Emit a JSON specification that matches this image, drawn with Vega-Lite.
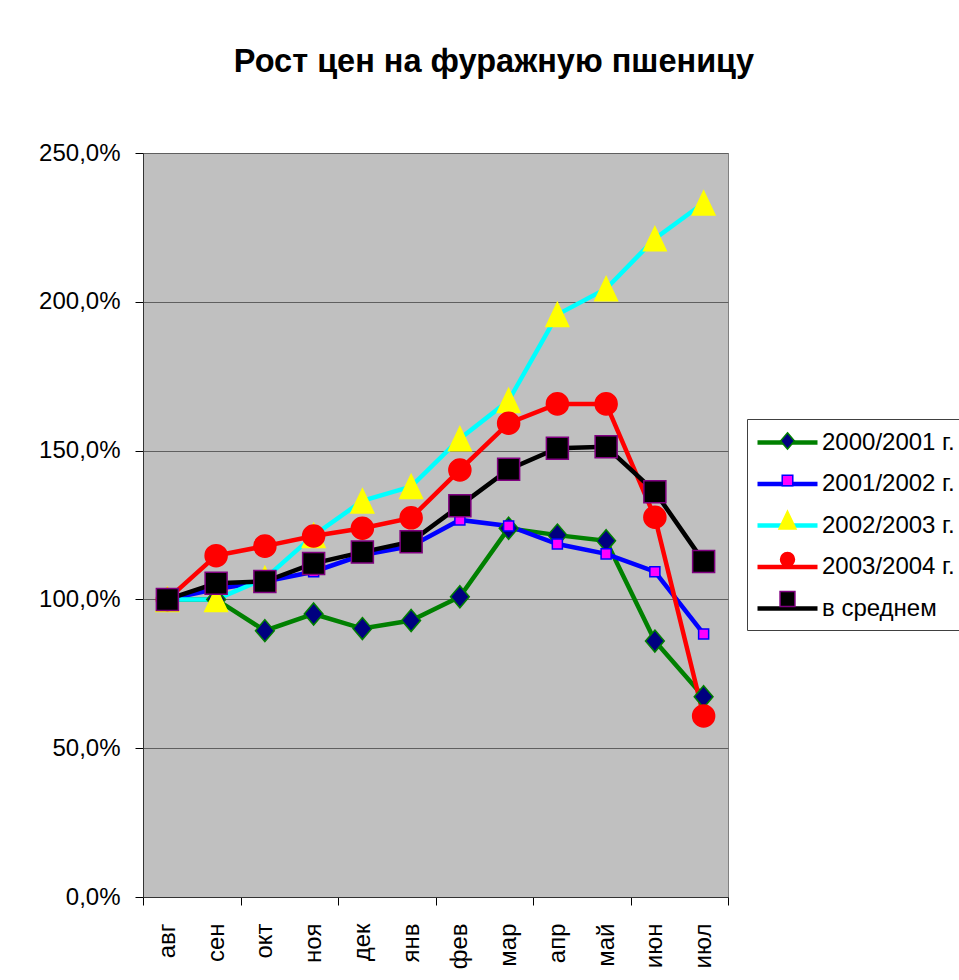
{
  "$schema": "https://vega.github.io/schema/vega-lite/v6.json",
  "width": 585,
  "height": 744,
  "autosize": {"type": "none"},
  "padding": {"left": 143, "top": 153, "right": 231, "bottom": 83},
  "background": "white",
  "title": {
    "text": "Рост цен на фуражную пшеницу",
    "font": "Liberation Sans",
    "fontSize": 32.5,
    "fontWeight": "bold",
    "color": "black",
    "anchor": "middle",
    "dx": 58.5,
    "offset": 37,
    "baseline": "alphabetic"
  },
  "data": {
    "values": [
      {"series": "2000/2001 г.", "month": "авг", "value": 100},
      {"series": "2000/2001 г.", "month": "сен", "value": 100},
      {"series": "2000/2001 г.", "month": "окт", "value": 89.5},
      {"series": "2000/2001 г.", "month": "ноя", "value": 95.1},
      {"series": "2000/2001 г.", "month": "дек", "value": 90.2},
      {"series": "2000/2001 г.", "month": "янв", "value": 92.9},
      {"series": "2000/2001 г.", "month": "фев", "value": 100.9},
      {"series": "2000/2001 г.", "month": "мар", "value": 123.9},
      {"series": "2000/2001 г.", "month": "апр", "value": 121.6},
      {"series": "2000/2001 г.", "month": "май", "value": 119.7},
      {"series": "2000/2001 г.", "month": "июн", "value": 86.0},
      {"series": "2000/2001 г.", "month": "июл", "value": 67.3},
      {"series": "2001/2002 г.", "month": "авг", "value": 100},
      {"series": "2001/2002 г.", "month": "сен", "value": 103.5},
      {"series": "2001/2002 г.", "month": "окт", "value": 106},
      {"series": "2001/2002 г.", "month": "ноя", "value": 109.3},
      {"series": "2001/2002 г.", "month": "дек", "value": 114.9},
      {"series": "2001/2002 г.", "month": "янв", "value": 117.9},
      {"series": "2001/2002 г.", "month": "фев", "value": 126.7},
      {"series": "2001/2002 г.", "month": "мар", "value": 124.7},
      {"series": "2001/2002 г.", "month": "апр", "value": 118.6},
      {"series": "2001/2002 г.", "month": "май", "value": 115.3},
      {"series": "2001/2002 г.", "month": "июн", "value": 109.3},
      {"series": "2001/2002 г.", "month": "июл", "value": 88.4},
      {"series": "2002/2003 г.", "month": "авг", "value": 100},
      {"series": "2002/2003 г.", "month": "сен", "value": 100},
      {"series": "2002/2003 г.", "month": "окт", "value": 107},
      {"series": "2002/2003 г.", "month": "ноя", "value": 121.5},
      {"series": "2002/2003 г.", "month": "дек", "value": 133.1},
      {"series": "2002/2003 г.", "month": "янв", "value": 137.9},
      {"series": "2002/2003 г.", "month": "фев", "value": 154.0},
      {"series": "2002/2003 г.", "month": "мар", "value": 166.8},
      {"series": "2002/2003 г.", "month": "апр", "value": 195.7},
      {"series": "2002/2003 г.", "month": "май", "value": 204.4},
      {"series": "2002/2003 г.", "month": "июн", "value": 221.2},
      {"series": "2002/2003 г.", "month": "июл", "value": 233.2},
      {"series": "2003/2004 г.", "month": "авг", "value": 100},
      {"series": "2003/2004 г.", "month": "сен", "value": 114.7},
      {"series": "2003/2004 г.", "month": "окт", "value": 117.9},
      {"series": "2003/2004 г.", "month": "ноя", "value": 121.3},
      {"series": "2003/2004 г.", "month": "дек", "value": 123.9},
      {"series": "2003/2004 г.", "month": "янв", "value": 127.4},
      {"series": "2003/2004 г.", "month": "фев", "value": 143.5},
      {"series": "2003/2004 г.", "month": "мар", "value": 159.2},
      {"series": "2003/2004 г.", "month": "апр", "value": 165.7},
      {"series": "2003/2004 г.", "month": "май", "value": 165.7},
      {"series": "2003/2004 г.", "month": "июн", "value": 127.6},
      {"series": "2003/2004 г.", "month": "июл", "value": 60.8},
      {"series": "в среднем", "month": "авг", "value": 100},
      {"series": "в среднем", "month": "сен", "value": 105.4},
      {"series": "в среднем", "month": "окт", "value": 106.0},
      {"series": "в среднем", "month": "ноя", "value": 112.1},
      {"series": "в среднем", "month": "дек", "value": 115.9},
      {"series": "в среднем", "month": "янв", "value": 119.4},
      {"series": "в среднем", "month": "фев", "value": 131.5},
      {"series": "в среднем", "month": "мар", "value": 143.7},
      {"series": "в среднем", "month": "апр", "value": 150.8},
      {"series": "в среднем", "month": "май", "value": 151.3},
      {"series": "в среднем", "month": "июн", "value": 136.2},
      {"series": "в среднем", "month": "июл", "value": 112.7}
    ]
  },
  "encoding": {
    "x": {
      "field": "month",
      "type": "nominal",
      "sort": ["авг", "сен", "окт", "ноя", "дек", "янв", "фев", "мар", "апр", "май", "июн", "июл"],
      "scale": {"type": "band", "paddingInner": 0, "paddingOuter": 0},
      "axis": {
        "title": null,
        "labelAngle": 270,
        "labelFontSize": 24,
        "labelFont": "Liberation Sans",
        "labelColor": "black",
        "labelPadding": 18,
        "tickSize": 8,
        "tickBand": "extent",
        "tickColor": {
          "condition": {"test": "datum.extra || indexof(['сен','ноя','янв','мар','май','июл'], datum.value) >= 0", "value": "black"},
          "value": "transparent"
        },
        "domainColor": "#333333",
        "grid": false
      }
    },
    "y": {
      "field": "value",
      "type": "quantitative",
      "scale": {"domain": [0, 250], "nice": false},
      "axis": {
        "title": null,
        "values": [0, 50, 100, 150, 200, 250],
        "labelExpr": "replace(format(datum.value, '.1f'), '.', ',') + '%'",
        "labelFontSize": 24,
        "labelFont": "Liberation Sans",
        "labelColor": "black",
        "labelPadding": 15,
        "tickSize": 8,
        "tickColor": "black",
        "domainColor": "#333333",
        "grid": true,
        "gridColor": "#5f5f5f",
        "gridWidth": 1
      }
    }
  },
  "layer": [
    {
      "mark": {"type": "line", "strokeWidth": 4.5},
      "encoding": {
        "color": {
          "field": "series",
          "type": "nominal",
          "scale": {"range": ["#008000", "#0000FF", "#00FFFF", "#FF0000", "#000000"]},
          "legend": {
            "orient": "none",
            "legendX": 604,
            "legendY": 266,
            "zindex": 0,
            "title": null,
            "symbolType": "M-2.5,0H2.5",
            "symbolSize": 576,
            "symbolStrokeWidth": 4.5,
            "symbolOffset": 17,
            "labelFontSize": 24,
            "labelFont": "Liberation Sans",
            "labelColor": "black",
            "labelOffset": 20,
            "labelLimit": 400,
            "padding": 9,
            "rowPadding": 14.5,
            "strokeColor": "#404040"
          }
        }
      }
    },
    {
      "mark": {"type": "point", "filled": true, "opacity": 1, "strokeWidth": 1.5},
      "encoding": {
        "shape": {
          "field": "series",
          "type": "nominal",
          "scale": {
            "domain": ["2000/2001 г.", "2001/2002 г.", "2002/2003 г.", "2003/2004 г.", "в среднем"],
            "range": [
              "M0,-0.68L0.58,0L0,0.68L-0.58,0Z",
              "M-0.44,-0.44H0.44V0.44H-0.44Z",
              "M0,-0.75L0.71,0.75L-0.71,0.75Z",
              "M-0.58,0A0.58,0.58,0,1,0,0.58,0A0.58,0.58,0,1,0,-0.58,0Z",
              "M-0.62,-0.62H0.62V0.62H-0.62Z"
            ]
          },
          "legend": {
            "orient": "none", "legendX": 604, "legendY": 266, "zindex": 1, "title": null,
            "symbolSize": 576, "symbolStrokeWidth": 1.5, "symbolOffset": 18.5,
            "labelFontSize": 24, "labelFont": "Liberation Sans", "labelOpacity": 0,
            "labelExpr": "' '", "labelOffset": 0, "labelLimit": 400,
            "padding": 9, "rowPadding": 14.5
          }
        },
        "fill": {
          "field": "series",
          "type": "nominal",
          "scale": {
            "domain": ["2000/2001 г.", "2001/2002 г.", "2002/2003 г.", "2003/2004 г.", "в среднем"],
            "range": ["#000080", "#FF00FF", "#FFFF00", "#FF0000", "#000000"]
          },
          "legend": {
            "orient": "none", "legendX": 604, "legendY": 266, "zindex": 1, "title": null,
            "symbolSize": 576, "symbolStrokeWidth": 1.5, "symbolOffset": 18.5,
            "labelFontSize": 24, "labelFont": "Liberation Sans", "labelOpacity": 0,
            "labelExpr": "' '", "labelOffset": 0, "labelLimit": 400,
            "padding": 9, "rowPadding": 14.5
          }
        },
        "stroke": {
          "field": "series",
          "type": "nominal",
          "scale": {
            "domain": ["2000/2001 г.", "2001/2002 г.", "2002/2003 г.", "2003/2004 г.", "в среднем"],
            "range": ["#008000", "#0000FF", "#FFFF00", "#FF0000", "#800080"]
          },
          "legend": {
            "orient": "none", "legendX": 604, "legendY": 266, "zindex": 1, "title": null,
            "symbolSize": 576, "symbolStrokeWidth": 1.5, "symbolOffset": 18.5,
            "labelFontSize": 24, "labelFont": "Liberation Sans", "labelOpacity": 0,
            "labelExpr": "' '", "labelOffset": 0, "labelLimit": 400,
            "padding": 9, "rowPadding": 14.5
          }
        },
        "size": {
          "field": "series",
          "type": "nominal",
          "scale": {
            "type": "ordinal",
            "domain": ["в среднем", "2003/2004 г.", "2002/2003 г.", "2001/2002 г.", "2000/2001 г."],
            "range": [1260, 1440, 1024, 520, 1050]
          },
          "legend": null
        }
      }
    }
  ],
  "config": {
    "view": {"fill": "#C0C0C0", "stroke": "#808080", "strokeWidth": 1},
    "font": "Liberation Sans"
  }
}
